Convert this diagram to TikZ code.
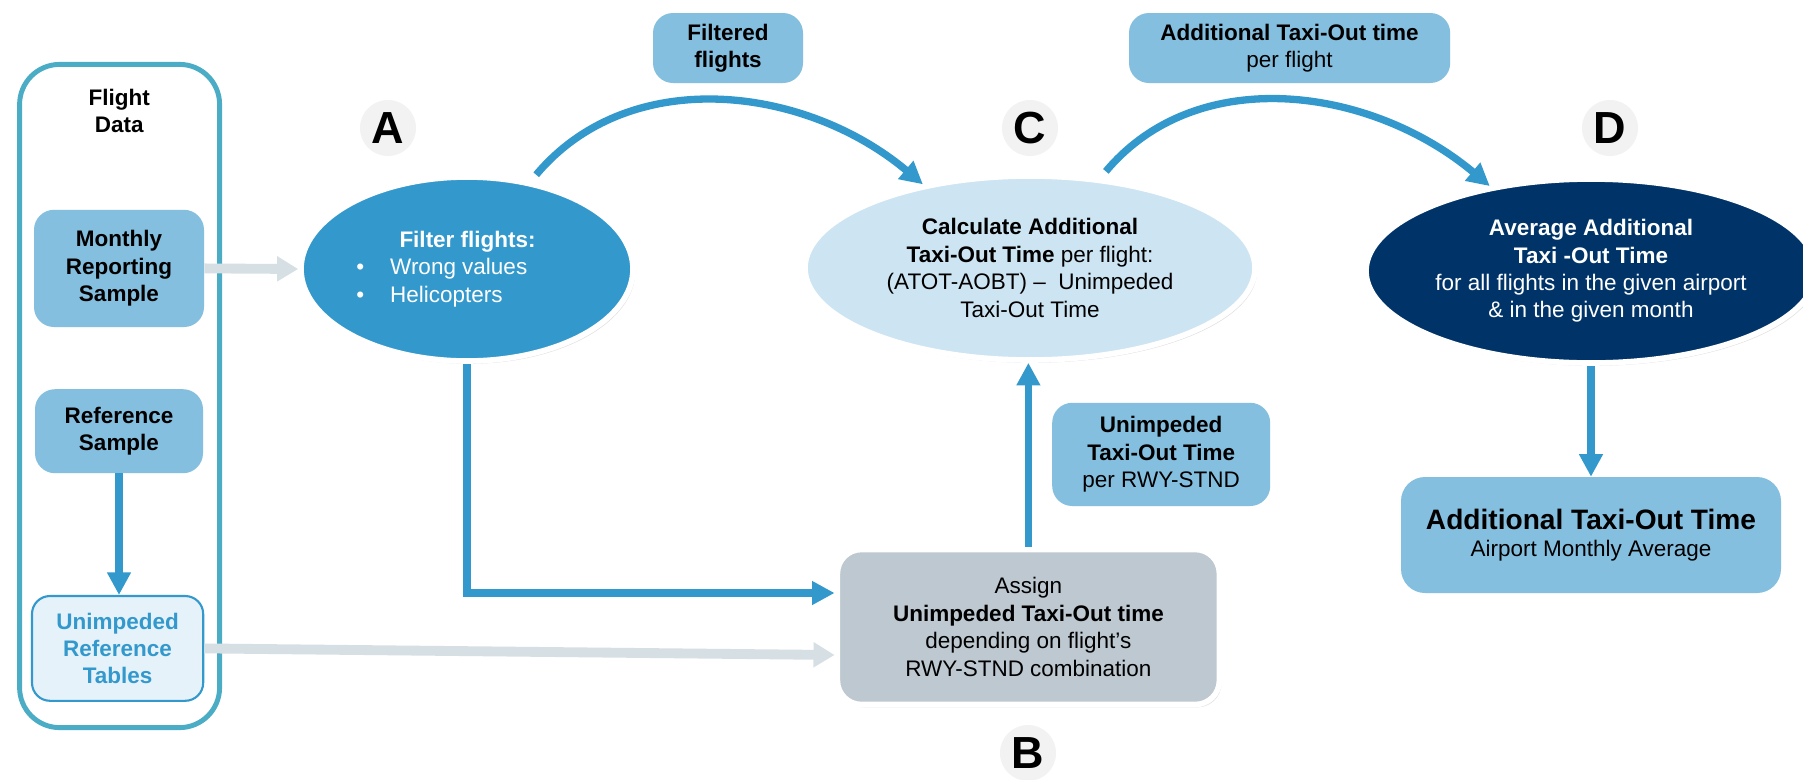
\documentclass[tikz,border=0pt]{standalone}
\usepackage{fontspec}
\setmainfont{Liberation Sans}
\usetikzlibrary{shapes.geometric, arrows.meta, positioning, calc, shadows}

\definecolor{boxblue}{RGB}{133,191,223}
\definecolor{midblue}{RGB}{51,153,204}
\definecolor{paleblue}{RGB}{205,228,242}
\definecolor{darknavy}{RGB}{0,52,104}
\definecolor{slate}{RGB}{189,200,208}
\definecolor{greyarrow}{RGB}{214,223,228}
\definecolor{frameblue}{RGB}{75,172,198}
\definecolor{iceblue}{RGB}{230,242,250}
\definecolor{labelgrey}{RGB}{242,242,242}

\begin{document}
\begin{tikzpicture}[
  every node/.style={font=\fontsize{16}{19.5}\selectfont, align=center, inner sep=0pt},
  infobox/.style={rectangle, rounded corners=0.5cm, fill=boxblue},
  stepellipse/.style={ellipse, draw=white, line width=4pt, minimum height=4.6cm,
    drop shadow={opacity=0.25, shadow xshift=1.5pt, shadow yshift=-2pt}},
  letter/.style={circle, fill=labelgrey, minimum size=1.4cm, font=\fontsize{32}{32}\selectfont\bfseries},
  bluearrow/.style={draw=midblue, line width=5.2pt, -{Triangle[length=16pt, width=16pt]}},
  greyarrowstyle/.style={draw=greyarrow, line width=7pt, -{Triangle[length=15pt, width=17pt]}}
]
\path[use as bounding box, fill=white] (0,0) rectangle (45.075,-19.475);

% Nodes
\node[draw=frameblue, line width=3.5pt, rounded corners=1cm, minimum width=5cm, minimum height=16.58cm] (flightdata) at (2.99,-9.9) {};
\node[font=\fontsize{16}{19.5}\selectfont\bfseries] (fdtitle) at (2.98,-2.775) {Flight\\Data};
\node[infobox, minimum width=4.25cm, minimum height=2.93cm, font=\fontsize{16}{19.5}\selectfont\bfseries] (monthly) at (2.975,-6.71) {Monthly\\Reporting\\Sample};
\node[infobox, minimum width=4.2cm, minimum height=2.1cm, font=\fontsize{16}{19.5}\selectfont\bfseries] (refsample) at (2.975,-10.78) {Reference\\Sample};
\node[rectangle, rounded corners=0.45cm, draw=midblue, line width=1.5pt, fill=iceblue, text=midblue, minimum width=4.28cm, minimum height=2.62cm, font=\fontsize{16}{19.5}\selectfont\bfseries] (unimpref) at (2.94,-16.21) {Unimpeded\\Reference\\Tables};

\node[stepellipse, fill=midblue, text=white, minimum width=8.3cm, align=left] (filter) at (11.675,-6.725)
  {\hspace*{1.08cm}\textbf{Filter flights:}\hspace*{1.05cm}\\ \textbullet\hspace{0.65cm}Wrong values\\ \textbullet\hspace{0.65cm}Helicopters};
\node[stepellipse, fill=paleblue, minimum width=11.25cm] (calc) at (25.75,-6.7)
  {\textbf{Calculate Additional}\\\textbf{Taxi-Out Time} per flight:\\(ATOT-AOBT) –\ \ Unimpeded\\Taxi-Out Time};
\node[stepellipse, fill=darknavy, text=white, minimum width=11.25cm] (avg) at (39.775,-6.775)
  {\textbf{Average Additional}\\\textbf{Taxi -Out Time}\\for all flights in the given airport\\\& in the given month};
\node[rectangle, rounded corners=0.6cm, fill=slate, draw=white, line width=4pt, minimum width=9.55cm, minimum height=3.875cm,
  drop shadow={opacity=0.25, shadow xshift=1.5pt, shadow yshift=-2pt}] (assign) at (25.71,-15.675)
  {Assign\\\textbf{Unimpeded Taxi-Out time}\\depending on flight’s\\RWY-STND combination};

\node[infobox, minimum width=3.75cm, minimum height=1.75cm, font=\fontsize{16}{19.5}\selectfont\bfseries] (filtered) at (18.2,-1.2) {Filtered\\flights};
\node[infobox, minimum width=8.03cm, minimum height=1.75cm] (addtime) at (32.24,-1.2) {\textbf{Additional Taxi-Out time}\\per flight};
\node[infobox, minimum width=5.45cm, minimum height=2.58cm] (unimp) at (29.03,-11.36) {\textbf{Unimpeded}\\\textbf{Taxi-Out Time}\\per RWY-STND};
\node[infobox, rounded corners=0.6cm, minimum width=9.5cm, minimum height=2.9cm] (final) at (39.775,-13.375)
  {{\fontsize{20}{24}\selectfont\textbf{Additional Taxi-Out Time}}\\Airport Monthly Average};

% Step letters
\node[letter] (labA) at (9.7,-3.2) {A};
\node[letter] (labB) at (25.7,-18.825) {B};
\node[letter] (labC) at (25.75,-3.2) {C};
\node[letter] (labD) at (40.25,-3.2) {D};

% Arrows
\draw[greyarrowstyle] (monthly.east) -- (filter.west);
\draw[greyarrowstyle] (unimpref.east) -- ($(assign.west)+(0,-0.7)$);
\draw[bluearrow] (refsample.south) -- (refsample.south |- unimpref.north);
\draw[bluearrow] (filter.south) |- ($(assign.west)+(0,0.85)$);
\draw[bluearrow] (assign.north) -- (assign.north |- calc.south);
\draw[bluearrow, shorten <=6pt] (filter.54) to[out=50, in=140] (calc.142);
\draw[bluearrow, shorten <=6pt] (calc.52) to[out=50, in=140] (avg.140);
\draw[bluearrow] (avg.south) -- (final.north);
\end{tikzpicture}
\end{document}
